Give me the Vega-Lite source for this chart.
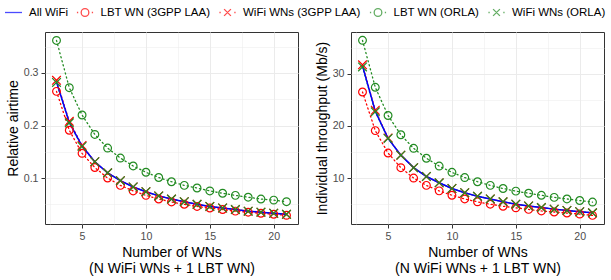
{
  "$schema": "https://vega.github.io/schema/vega-lite/v6.json",
  "padding": {"left": 4, "top": 3, "right": 0, "bottom": 0},
  "data": {"values": [
    {"n":3,"series":"All WiFi","airtime":0.283,"throughput":31.5},
    {"n":4,"series":"All WiFi","airtime":0.206,"throughput":22.8},
    {"n":5,"series":"All WiFi","airtime":0.161,"throughput":17.6},
    {"n":6,"series":"All WiFi","airtime":0.131,"throughput":14.4},
    {"n":7,"series":"All WiFi","airtime":0.110,"throughput":12.0},
    {"n":8,"series":"All WiFi","airtime":0.095,"throughput":10.3},
    {"n":9,"series":"All WiFi","airtime":0.083,"throughput":9.1},
    {"n":10,"series":"All WiFi","airtime":0.074,"throughput":8.0},
    {"n":11,"series":"All WiFi","airtime":0.066,"throughput":7.2},
    {"n":12,"series":"All WiFi","airtime":0.060,"throughput":6.5},
    {"n":13,"series":"All WiFi","airtime":0.055,"throughput":6.0},
    {"n":14,"series":"All WiFi","airtime":0.050,"throughput":5.45},
    {"n":15,"series":"All WiFi","airtime":0.046,"throughput":5.0},
    {"n":16,"series":"All WiFi","airtime":0.043,"throughput":4.65},
    {"n":17,"series":"All WiFi","airtime":0.040,"throughput":4.35},
    {"n":18,"series":"All WiFi","airtime":0.037,"throughput":4.05},
    {"n":19,"series":"All WiFi","airtime":0.035,"throughput":3.8},
    {"n":20,"series":"All WiFi","airtime":0.033,"throughput":3.55},
    {"n":21,"series":"All WiFi","airtime":0.031,"throughput":3.35},

    {"n":3,"series":"LBT WN (3GPP LAA)","airtime":0.265,"throughput":26.5},
    {"n":4,"series":"LBT WN (3GPP LAA)","airtime":0.191,"throughput":19.1},
    {"n":5,"series":"LBT WN (3GPP LAA)","airtime":0.147,"throughput":14.8},
    {"n":6,"series":"LBT WN (3GPP LAA)","airtime":0.120,"throughput":12.0},
    {"n":7,"series":"LBT WN (3GPP LAA)","airtime":0.100,"throughput":10.0},
    {"n":8,"series":"LBT WN (3GPP LAA)","airtime":0.086,"throughput":8.6},
    {"n":9,"series":"LBT WN (3GPP LAA)","airtime":0.0755,"throughput":7.55},
    {"n":10,"series":"LBT WN (3GPP LAA)","airtime":0.067,"throughput":6.7},
    {"n":11,"series":"LBT WN (3GPP LAA)","airtime":0.060,"throughput":6.0},
    {"n":12,"series":"LBT WN (3GPP LAA)","airtime":0.0545,"throughput":5.45},
    {"n":13,"series":"LBT WN (3GPP LAA)","airtime":0.050,"throughput":5.0},
    {"n":14,"series":"LBT WN (3GPP LAA)","airtime":0.046,"throughput":4.6},
    {"n":15,"series":"LBT WN (3GPP LAA)","airtime":0.043,"throughput":4.3},
    {"n":16,"series":"LBT WN (3GPP LAA)","airtime":0.040,"throughput":4.0},
    {"n":17,"series":"LBT WN (3GPP LAA)","airtime":0.037,"throughput":3.7},
    {"n":18,"series":"LBT WN (3GPP LAA)","airtime":0.035,"throughput":3.5},
    {"n":19,"series":"LBT WN (3GPP LAA)","airtime":0.033,"throughput":3.3},
    {"n":20,"series":"LBT WN (3GPP LAA)","airtime":0.031,"throughput":3.1},
    {"n":21,"series":"LBT WN (3GPP LAA)","airtime":0.029,"throughput":2.85},

    {"n":3,"series":"WiFi WNs (3GPP LAA)","airtime":0.286,"throughput":31.7},
    {"n":4,"series":"WiFi WNs (3GPP LAA)","airtime":0.208,"throughput":23.0},
    {"n":5,"series":"WiFi WNs (3GPP LAA)","airtime":0.162,"throughput":17.7},
    {"n":6,"series":"WiFi WNs (3GPP LAA)","airtime":0.131,"throughput":14.4},
    {"n":7,"series":"WiFi WNs (3GPP LAA)","airtime":0.110,"throughput":12.0},
    {"n":8,"series":"WiFi WNs (3GPP LAA)","airtime":0.095,"throughput":10.3},
    {"n":9,"series":"WiFi WNs (3GPP LAA)","airtime":0.083,"throughput":9.1},
    {"n":10,"series":"WiFi WNs (3GPP LAA)","airtime":0.074,"throughput":8.0},
    {"n":11,"series":"WiFi WNs (3GPP LAA)","airtime":0.066,"throughput":7.2},
    {"n":12,"series":"WiFi WNs (3GPP LAA)","airtime":0.060,"throughput":6.5},
    {"n":13,"series":"WiFi WNs (3GPP LAA)","airtime":0.055,"throughput":6.0},
    {"n":14,"series":"WiFi WNs (3GPP LAA)","airtime":0.050,"throughput":5.45},
    {"n":15,"series":"WiFi WNs (3GPP LAA)","airtime":0.046,"throughput":5.0},
    {"n":16,"series":"WiFi WNs (3GPP LAA)","airtime":0.043,"throughput":4.65},
    {"n":17,"series":"WiFi WNs (3GPP LAA)","airtime":0.040,"throughput":4.35},
    {"n":18,"series":"WiFi WNs (3GPP LAA)","airtime":0.037,"throughput":4.05},
    {"n":19,"series":"WiFi WNs (3GPP LAA)","airtime":0.035,"throughput":3.8},
    {"n":20,"series":"WiFi WNs (3GPP LAA)","airtime":0.033,"throughput":3.55},
    {"n":21,"series":"WiFi WNs (3GPP LAA)","airtime":0.031,"throughput":3.35},

    {"n":3,"series":"LBT WN (ORLA)","airtime":0.362,"throughput":36.4},
    {"n":4,"series":"LBT WN (ORLA)","airtime":0.272,"throughput":27.4},
    {"n":5,"series":"LBT WN (ORLA)","airtime":0.220,"throughput":22.0},
    {"n":6,"series":"LBT WN (ORLA)","airtime":0.183,"throughput":18.3},
    {"n":7,"series":"LBT WN (ORLA)","airtime":0.157,"throughput":15.7},
    {"n":8,"series":"LBT WN (ORLA)","airtime":0.138,"throughput":13.8},
    {"n":9,"series":"LBT WN (ORLA)","airtime":0.123,"throughput":12.3},
    {"n":10,"series":"LBT WN (ORLA)","airtime":0.111,"throughput":11.1},
    {"n":11,"series":"LBT WN (ORLA)","airtime":0.101,"throughput":10.1},
    {"n":12,"series":"LBT WN (ORLA)","airtime":0.093,"throughput":9.3},
    {"n":13,"series":"LBT WN (ORLA)","airtime":0.086,"throughput":8.6},
    {"n":14,"series":"LBT WN (ORLA)","airtime":0.081,"throughput":8.0},
    {"n":15,"series":"LBT WN (ORLA)","airtime":0.0755,"throughput":7.5},
    {"n":16,"series":"LBT WN (ORLA)","airtime":0.071,"throughput":7.1},
    {"n":17,"series":"LBT WN (ORLA)","airtime":0.067,"throughput":6.7},
    {"n":18,"series":"LBT WN (ORLA)","airtime":0.0635,"throughput":6.3},
    {"n":19,"series":"LBT WN (ORLA)","airtime":0.060,"throughput":6.0},
    {"n":20,"series":"LBT WN (ORLA)","airtime":0.058,"throughput":5.7},
    {"n":21,"series":"LBT WN (ORLA)","airtime":0.055,"throughput":5.4},

    {"n":3,"series":"WiFi WNs (ORLA)","airtime":0.282,"throughput":31.3},
    {"n":4,"series":"WiFi WNs (ORLA)","airtime":0.205,"throughput":22.7},
    {"n":5,"series":"WiFi WNs (ORLA)","airtime":0.160,"throughput":17.6},
    {"n":6,"series":"WiFi WNs (ORLA)","airtime":0.131,"throughput":14.4},
    {"n":7,"series":"WiFi WNs (ORLA)","airtime":0.110,"throughput":12.0},
    {"n":8,"series":"WiFi WNs (ORLA)","airtime":0.095,"throughput":10.3},
    {"n":9,"series":"WiFi WNs (ORLA)","airtime":0.083,"throughput":9.1},
    {"n":10,"series":"WiFi WNs (ORLA)","airtime":0.074,"throughput":8.0},
    {"n":11,"series":"WiFi WNs (ORLA)","airtime":0.066,"throughput":7.2},
    {"n":12,"series":"WiFi WNs (ORLA)","airtime":0.060,"throughput":6.5},
    {"n":13,"series":"WiFi WNs (ORLA)","airtime":0.055,"throughput":6.0},
    {"n":14,"series":"WiFi WNs (ORLA)","airtime":0.050,"throughput":5.45},
    {"n":15,"series":"WiFi WNs (ORLA)","airtime":0.046,"throughput":5.0},
    {"n":16,"series":"WiFi WNs (ORLA)","airtime":0.043,"throughput":4.65},
    {"n":17,"series":"WiFi WNs (ORLA)","airtime":0.040,"throughput":4.35},
    {"n":18,"series":"WiFi WNs (ORLA)","airtime":0.037,"throughput":4.05},
    {"n":19,"series":"WiFi WNs (ORLA)","airtime":0.035,"throughput":3.8},
    {"n":20,"series":"WiFi WNs (ORLA)","airtime":0.033,"throughput":3.55},
    {"n":21,"series":"WiFi WNs (ORLA)","airtime":0.031,"throughput":3.35}
  ]},
  "config": {
    "font": "Liberation Sans",
    "view": {"stroke": "#333333", "strokeWidth": 1},
    "axis": {
      "labelFont": "Liberation Sans", "labelFontSize": 10.6, "labelColor": "#4D4D4D",
      "tickColor": "#333333", "tickSize": 4, "tickWidth": 1, "domain": false,
      "titleFont": "Liberation Sans", "titleFontSize": 14, "titleFontWeight": "normal", "titleColor": "black",
      "gridColor": "#EBEBEB", "labelPadding": 3, "labelFlush": false, "labelOverlap": false
    },
    "legend": {
      "labelFont": "Liberation Sans", "labelFontSize": 11.5, "labelColor": "black",
      "symbolSize": 289, "symbolStrokeWidth": 1.3, "labelOffset": 6, "columnPadding": 5.5, "padding": 0,
      "gridAlign": "none", "offset": 12,
      "layout": {"top": {"anchor": "middle"}}
    },
    "concat": {"spacing": 15}
  },
  "hconcat": [
    {
      "width": 253, "height": 192,
      "encoding": {
        "x": {"field": "n", "type": "quantitative", "scale": {"domain": [2.1, 21.9], "nice": false, "zero": false},
          "axis": {"values": [2.5,5,7.5,10,12.5,15,17.5,20],
            "labelExpr": "datum.value % 5 === 0 ? datum.label : ''",
            "gridWidth": {"condition": {"test": "datum.value % 5 !== 0", "value": 0.5}, "value": 1},
            "tickOpacity": {"condition": {"test": "datum.value % 5 !== 0", "value": 0}, "value": 1},
            "title": ["Number of WNs", "(N WiFi WNs + 1 LBT WN)"], "titleLineHeight": 16, "titlePadding": 4}},
        "y": {"field": "airtime", "type": "quantitative", "scale": {"domain": [0.0125, 0.378], "nice": false, "zero": false},
          "axis": {"values": [0.05,0.1,0.15,0.2,0.25,0.3,0.35], "format": ".1f",
            "labelExpr": "(datum.value==0.1||datum.value==0.2||datum.value==0.3) ? datum.label : ''",
            "gridWidth": {"condition": {"test": "!(datum.value==0.1||datum.value==0.2||datum.value==0.3)", "value": 0.5}, "value": 1},
            "tickOpacity": {"condition": {"test": "!(datum.value==0.1||datum.value==0.2||datum.value==0.3)", "value": 0}, "value": 1},
            "title": "Relative airtime", "titlePadding": 3}}
      },
      "layer": [
        {
          "transform": [{"filter": "datum.n < 0"}],
          "mark": {"type": "point", "filled": false},
          "encoding": {
            "color": {"field": "series", "type": "nominal",
              "scale": {"domain": ["All WiFi","LBT WN (3GPP LAA)","WiFi WNs (3GPP LAA)","LBT WN (ORLA)","WiFi WNs (ORLA)"],
                "range": ["blue","red","red","forestgreen","forestgreen"]},
              "legend": {"title": null, "orient": "top", "direction": "horizontal"}},
            "shape": {"field": "series", "type": "nominal",
              "scale": {"domain": ["All WiFi","LBT WN (3GPP LAA)","WiFi WNs (3GPP LAA)","LBT WN (ORLA)","WiFi WNs (ORLA)"],
                "range": ["M-1,0L1,0",
                  "M0.45,0A0.45,0.45,0,1,1,-0.45,0A0.45,0.45,0,1,1,0.45,0ZM-0.95,0L-0.8,0M0.8,0L0.95,0",
                  "M-0.4,-0.4L0.4,0.4M-0.4,0.4L0.4,-0.4M-0.95,0L-0.8,0M0.8,0L0.95,0",
                  "M0.45,0A0.45,0.45,0,1,1,-0.45,0A0.45,0.45,0,1,1,0.45,0ZM-0.95,0L-0.8,0M0.8,0L0.95,0",
                  "M-0.4,-0.4L0.4,0.4M-0.4,0.4L0.4,-0.4M-0.95,0L-0.8,0M0.8,0L0.95,0"]},
              "legend": {"title": null, "orient": "top", "direction": "horizontal"}}
          }
        },
        {
          "transform": [{"filter": "datum.series !== 'All WiFi'"}],
          "mark": {"type": "line", "strokeDash": [1.2, 3], "strokeCap": "round", "strokeWidth": 1.3},
          "encoding": {"color": {"field": "series", "type": "nominal"}, "detail": {"field": "series"}}
        },
        {
          "transform": [{"filter": "datum.series === 'All WiFi'"}],
          "mark": {"type": "line", "strokeWidth": 1.5},
          "encoding": {"color": {"field": "series", "type": "nominal"}}
        },
        {
          "transform": [{"filter": "indexof(datum.series, 'LBT') === 0"}],
          "mark": {"type": "point", "shape": "circle", "filled": false, "size": 60, "strokeWidth": 1.2, "opacity": 1},
          "encoding": {"color": {"field": "series", "type": "nominal"}}
        },
        {
          "transform": [{"filter": "indexof(datum.series, 'WiFi WNs') === 0"}],
          "mark": {"type": "point", "shape": "M-1,-1L1,1M-1,1L1,-1", "filled": false, "size": 75, "strokeWidth": 1.2, "opacity": 1},
          "encoding": {"color": {"field": "series", "type": "nominal"}}
        }
      ]
    },
    {
      "width": 253, "height": 192,
      "encoding": {
        "x": {"field": "n", "type": "quantitative", "scale": {"domain": [2.1, 21.9], "nice": false, "zero": false},
          "axis": {"values": [2.5,5,7.5,10,12.5,15,17.5,20],
            "labelExpr": "datum.value % 5 === 0 ? datum.label : ''",
            "gridWidth": {"condition": {"test": "datum.value % 5 !== 0", "value": 0.5}, "value": 1},
            "tickOpacity": {"condition": {"test": "datum.value % 5 !== 0", "value": 0}, "value": 1},
            "title": ["Number of WNs", "(N WiFi WNs + 1 LBT WN)"], "titleLineHeight": 16, "titlePadding": 4}},
        "y": {"field": "throughput", "type": "quantitative", "scale": {"domain": [1.2, 38.0], "nice": false, "zero": false},
          "axis": {"values": [5,10,15,20,25,30,35],
            "labelExpr": "datum.value % 10 === 0 ? datum.label : ''",
            "gridWidth": {"condition": {"test": "datum.value % 10 !== 0", "value": 0.5}, "value": 1},
            "tickOpacity": {"condition": {"test": "datum.value % 10 !== 0", "value": 0}, "value": 1},
            "title": "Individual throughput (Mb/s)", "titlePadding": 3}}
      },
      "layer": [
        {
          "transform": [{"filter": "datum.n < 0"}],
          "mark": {"type": "point", "filled": false},
          "encoding": {
            "color": {"field": "series", "type": "nominal",
              "scale": {"domain": ["All WiFi","LBT WN (3GPP LAA)","WiFi WNs (3GPP LAA)","LBT WN (ORLA)","WiFi WNs (ORLA)"],
                "range": ["blue","red","red","forestgreen","forestgreen"]},
              "legend": {"title": null, "orient": "top", "direction": "horizontal"}},
            "shape": {"field": "series", "type": "nominal",
              "scale": {"domain": ["All WiFi","LBT WN (3GPP LAA)","WiFi WNs (3GPP LAA)","LBT WN (ORLA)","WiFi WNs (ORLA)"],
                "range": ["M-1,0L1,0",
                  "M0.45,0A0.45,0.45,0,1,1,-0.45,0A0.45,0.45,0,1,1,0.45,0ZM-0.95,0L-0.8,0M0.8,0L0.95,0",
                  "M-0.4,-0.4L0.4,0.4M-0.4,0.4L0.4,-0.4M-0.95,0L-0.8,0M0.8,0L0.95,0",
                  "M0.45,0A0.45,0.45,0,1,1,-0.45,0A0.45,0.45,0,1,1,0.45,0ZM-0.95,0L-0.8,0M0.8,0L0.95,0",
                  "M-0.4,-0.4L0.4,0.4M-0.4,0.4L0.4,-0.4M-0.95,0L-0.8,0M0.8,0L0.95,0"]},
              "legend": {"title": null, "orient": "top", "direction": "horizontal"}}
          }
        },
        {
          "transform": [{"filter": "datum.series !== 'All WiFi'"}],
          "mark": {"type": "line", "strokeDash": [1.2, 3], "strokeCap": "round", "strokeWidth": 1.3},
          "encoding": {"color": {"field": "series", "type": "nominal"}, "detail": {"field": "series"}}
        },
        {
          "transform": [{"filter": "datum.series === 'All WiFi'"}],
          "mark": {"type": "line", "strokeWidth": 1.5},
          "encoding": {"color": {"field": "series", "type": "nominal"}}
        },
        {
          "transform": [{"filter": "indexof(datum.series, 'LBT') === 0"}],
          "mark": {"type": "point", "shape": "circle", "filled": false, "size": 60, "strokeWidth": 1.2, "opacity": 1},
          "encoding": {"color": {"field": "series", "type": "nominal"}}
        },
        {
          "transform": [{"filter": "indexof(datum.series, 'WiFi WNs') === 0"}],
          "mark": {"type": "point", "shape": "M-1,-1L1,1M-1,1L1,-1", "filled": false, "size": 75, "strokeWidth": 1.2, "opacity": 1},
          "encoding": {"color": {"field": "series", "type": "nominal"}}
        }
      ]
    }
  ]
}
